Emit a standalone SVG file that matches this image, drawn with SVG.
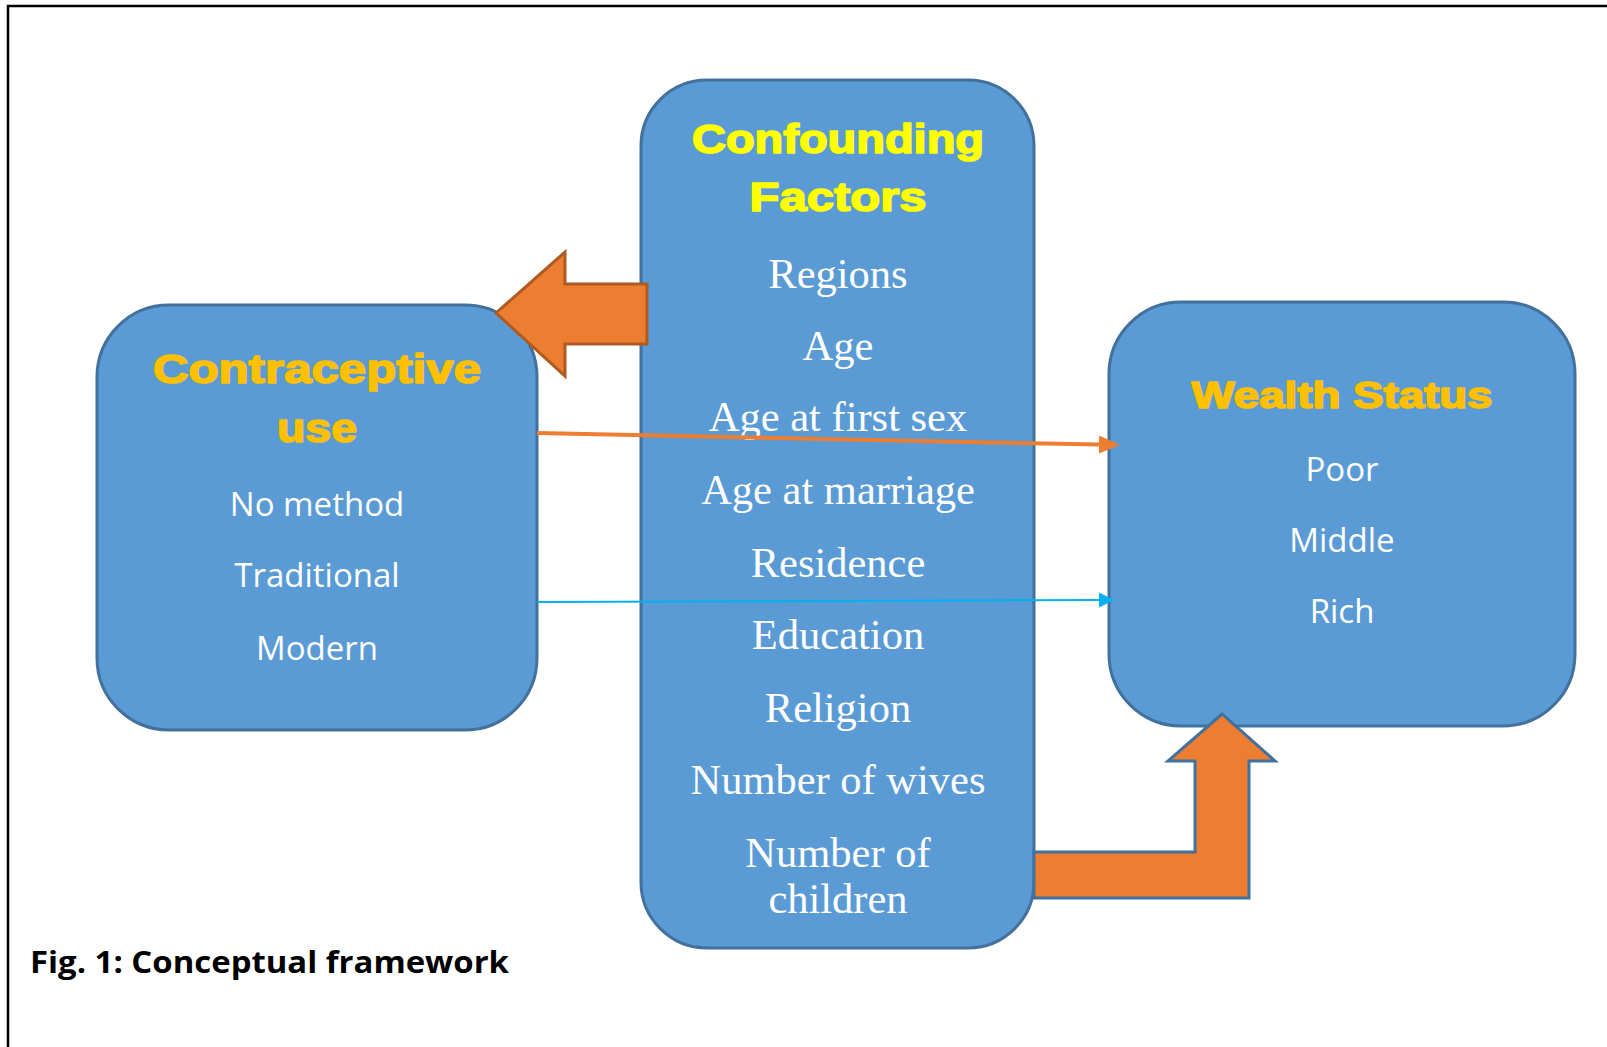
<svg xmlns="http://www.w3.org/2000/svg" width="1607" height="1047" viewBox="0 0 1607 1047">
<style>
.box{fill:#5B9BD5;stroke:#41719C;stroke-width:3}
.ttl{font-family:"Liberation Sans",Arial,sans-serif;font-weight:bold;text-anchor:middle;stroke-width:1.6;stroke-linejoin:round}
.y1{fill:#FFC000;stroke:#FFC000}
.y2{fill:#FFFF00;stroke:#FFFF00}
.sans{font-family:"Open Sans","Noto Sans",sans-serif;font-size:33px;fill:#FFFFFF;text-anchor:middle}
.serif{font-family:"Liberation Serif","Times New Roman",serif;font-size:42.5px;fill:#FFFFFF;text-anchor:middle}
.cap{font-family:"Open Sans","Noto Sans",sans-serif;font-weight:bold;font-size:31px;fill:#000000}
</style>
<defs>
<marker id="ho" markerUnits="userSpaceOnUse" markerWidth="22" markerHeight="20" viewBox="0 -10 22 20" refX="0" refY="0" orient="auto"><path d="M0,-9 L21,0 L0,9 z" fill="#ED7D31"/></marker>
<marker id="hc" markerUnits="userSpaceOnUse" markerWidth="16" markerHeight="16" viewBox="0 -8 16 16" refX="0" refY="0" orient="auto"><path d="M0,-7.5 L15,0 L0,7.5 z" fill="#00B0F0"/></marker>
</defs>
<rect width="1607" height="1047" fill="#FFFFFF"/>
<path d="M8,1047 V6 H1607" fill="none" stroke="#000000" stroke-width="2.5"/>

<g id="contraceptive">
<rect class="box" x="97" y="305" width="440" height="425" rx="72" ry="72"/>
<text class="ttl y1" x="317" y="383" font-size="41" textLength="328" lengthAdjust="spacingAndGlyphs">Contraceptive</text>
<text class="ttl y1" x="317" y="442" font-size="41" textLength="80" lengthAdjust="spacingAndGlyphs">use</text>
<text class="sans" x="317" y="516">No method</text>
<text class="sans" x="317" y="587">Traditional</text>
<text class="sans" x="317" y="660">Modern</text>
</g>

<g id="wealth">
<rect class="box" x="1109" y="302" width="466" height="424" rx="72" ry="72"/>
<text class="ttl y1" x="1342" y="408" font-size="36" textLength="301" lengthAdjust="spacingAndGlyphs">Wealth Status</text>
<text class="sans" x="1342" y="481">Poor</text>
<text class="sans" x="1342" y="552">Middle</text>
<text class="sans" x="1342" y="623">Rich</text>
</g>

<g id="confounding">
<rect class="box" x="641" y="80" width="393" height="868" rx="66" ry="66"/>
<text class="ttl y2" x="838" y="153" font-size="40" textLength="292" lengthAdjust="spacingAndGlyphs">Confounding</text>
<text class="ttl y2" x="838" y="211" font-size="40" textLength="177" lengthAdjust="spacingAndGlyphs">Factors</text>
<text class="serif" x="838" y="288">Regions</text>
<text class="serif" x="838" y="360">Age</text>
<text class="serif" x="838" y="431">Age at first sex</text>
<text class="serif" x="838" y="504">Age at marriage</text>
<text class="serif" x="838" y="577">Residence</text>
<text class="serif" x="838" y="649">Education</text>
<text class="serif" x="838" y="722">Religion</text>
<text class="serif" x="838" y="794">Number of wives</text>
<text class="serif" x="838" y="867">Number of</text>
<text class="serif" x="838" y="913">children</text>
</g>

<g id="connectors">
<polygon points="496,313 565,252 565,284 647,284 647,344 565,344 565,376" fill="#ED7D31" stroke="#AE5A21" stroke-width="3" stroke-linejoin="miter"/>
<polygon points="1034,852 1195,852 1195,761 1168,761 1222,714 1275,761 1249,761 1249,898 1034,898" fill="#ED7D31" stroke="#41719C" stroke-width="3"/>
<line x1="537" y1="433" x2="1099" y2="444.6" stroke="#ED7D31" stroke-width="4" marker-end="url(#ho)"/>
<line x1="537" y1="602" x2="1099" y2="600" stroke="#00B0F0" stroke-width="2" marker-end="url(#hc)"/>
</g>

<text class="cap" x="30" y="973" textLength="479" lengthAdjust="spacingAndGlyphs">Fig. 1: Conceptual framework</text>
</svg>
